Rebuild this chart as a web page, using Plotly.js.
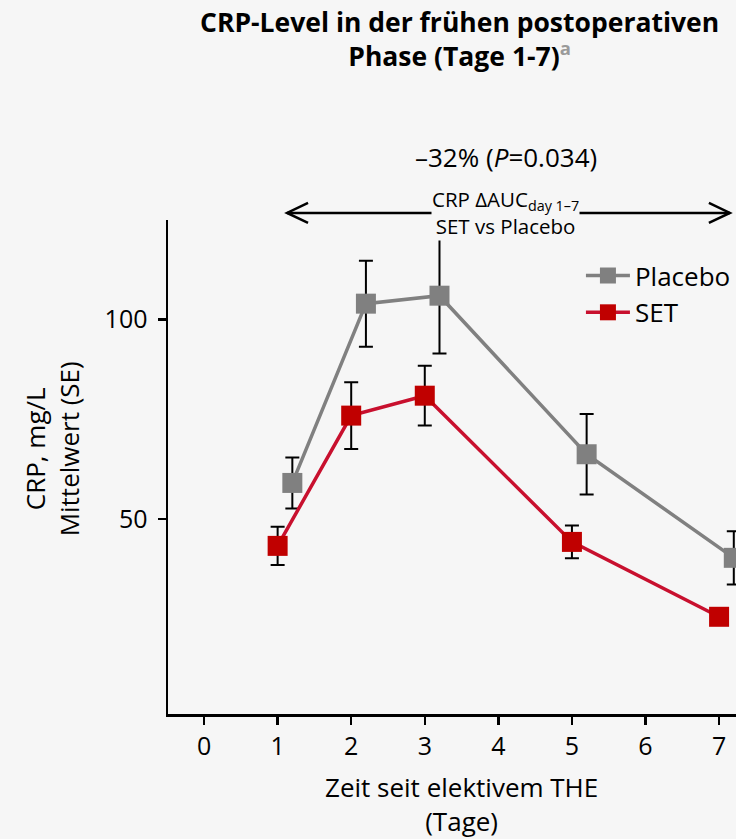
<!DOCTYPE html>
<html>
<head>
<meta charset="utf-8">
<script src="https://cdn.plot.ly/plotly-3.0.1.min.js"></script>
<style>
  html, body { margin: 0; padding: 0; background: #f6f6f6; }
  #chart { width: 736px; height: 839px; }
</style>
</head>
<body>
<div id="chart"></div>
<script>
// Postoperative days with a CRP measurement
const days = [1, 2, 3, 5, 7];

// Mean CRP (mg/L) and standard error per group
const placeboMean = [59.0, 104.0, 106.0, 66.2, 40.2];
const placeboSE   = [6.4, 10.8, 14.5, 10.1, 6.7];
const setMean     = [43.2, 75.9, 80.9, 44.2, 25.4];
const setSE       = [4.8, 8.4, 7.5, 4.1, 2.0];

// Axis ticks
const xTicks = [0, 1, 2, 3, 4, 5, 6, 7];
const yTicks = [50, 100];

// Placebo points are nudged right so the error bars do not overlap
const dodge = 0.2;

const FONT = '"Open Sans", "Noto Sans", sans-serif';
const BG = '#f6f6f6';

const errStyle = (arr) => ({
  type: 'data', array: arr, visible: true,
  color: '#000000', thickness: 2, width: 7
});

const traces = [
  {
    name: 'Placebo',
    x: days.map(d => d + dodge),
    y: placeboMean,
    error_y: errStyle(placeboSE),
    mode: 'lines+markers',
    line: { color: '#808080', width: 3.5 },
    marker: { symbol: 'square', size: 20, color: '#808080' },
    cliponaxis: true
  },
  {
    name: 'SET',
    x: days,
    y: setMean,
    error_y: errStyle(setSE),
    mode: 'lines+markers',
    line: { color: '#C8102E', width: 3.5 },
    marker: { symbol: 'square', size: 20, color: '#C00000' },
    cliponaxis: true
  }
];

// Comparison arrow spanning days 1-7 above the plot
const arrowY = 1.0142;
const arrowL = 1.128, arrowR = 7.147;
const shapes = [
  { type: 'line', xref: 'x', yref: 'paper', x0: arrowL, x1: arrowR, y0: arrowY, y1: arrowY,
    line: { color: '#000', width: 2.5 } },
  { type: 'path', xref: 'x', yref: 'paper', xsizemode: 'pixel', ysizemode: 'pixel',
    xanchor: arrowL, yanchor: arrowY, path: 'M 21,10 L 0,0 L 21,-10',
    line: { color: '#000', width: 2.5 } },
  { type: 'path', xref: 'x', yref: 'paper', xsizemode: 'pixel', ysizemode: 'pixel',
    xanchor: arrowR, yanchor: arrowY, path: 'M -21,10 L 0,0 L -21,-10',
    line: { color: '#000', width: 2.5 } }
];

const annotations = [
  { text: '<b>CRP-Level in der frühen postoperativen<br>Phase (Tage 1-7)<sup><span style="color:#9a9a9a">a</span></sup></b>',
    xref: 'paper', yref: 'paper', x: 0.514, y: 1.3654, xanchor: 'center', yanchor: 'middle',
    showarrow: false, font: { family: FONT, size: 26.5, color: '#000' } },
  { text: '–32% (<i>P</i>=0.034)', xref: 'x', yref: 'paper', x: 4.1, y: 1.1275,
    xanchor: 'center', yanchor: 'middle',
    showarrow: false, font: { family: FONT, size: 26, color: '#000' } },
  { text: 'CRP ΔAUC<sub>day 1–7</sub><br>SET vs Placebo', xref: 'x', yref: 'paper',
    x: 4.1, y: arrowY, xanchor: 'center', yanchor: 'middle', showarrow: false, bgcolor: BG, borderpad: 0,
    font: { family: FONT, size: 20.5, color: '#000' } },
  { text: 'CRP, mg/L<br>Mittelwert (SE)', xref: 'paper', yref: 'paper',
    x: -0.204, y: 0.536, xanchor: 'center', yanchor: 'middle', textangle: -90, showarrow: false,
    font: { family: FONT, size: 26, color: '#000' } },
  { text: 'Zeit seit elektivem THE<br>(Tage)', xref: 'x', yref: 'paper',
    x: 3.5, y: -0.182, xanchor: 'center', yanchor: 'middle', showarrow: false,
    font: { family: FONT, size: 26, color: '#000' } }
];

const layout = {
  width: 736, height: 839,
  paper_bgcolor: BG, plot_bgcolor: BG,
  margin: { l: 168, r: 0, t: 220, b: 125 },
  font: { family: FONT, color: '#000' },
  xaxis: {
    range: [-0.49, 7.23], tickvals: xTicks, ticktext: xTicks.map(String),
    showgrid: false, zeroline: false, showline: true, linecolor: '#000', linewidth: 2.5,
    ticks: 'outside', ticklen: 8, tickwidth: 2.5, tickcolor: '#000',
    tickfont: { family: FONT, size: 25, color: '#000' }, fixedrange: true
  },
  yaxis: {
    range: [1, 125], tickvals: yTicks, ticktext: yTicks.map(String),
    showgrid: false, zeroline: false, showline: true, linecolor: '#000', linewidth: 2.5,
    ticks: 'outside', ticklen: 8, tickwidth: 2.5, tickcolor: '#000',
    ticklabelstandoff: 5,
    tickfont: { family: FONT, size: 25, color: '#000' }, fixedrange: true
  },
  legend: {
    x: 0.727, y: 0.935, xanchor: 'left', yanchor: 'top',
    bgcolor: 'rgba(0,0,0,0)', borderwidth: 0, itemwidth: 44,
    font: { family: FONT, size: 26, color: '#000' },
    traceorder: 'normal'
  },
  shapes: shapes,
  annotations: annotations,
  showlegend: true
};

Plotly.newPlot('chart', traces, layout, { displayModeBar: false, staticPlot: true });
</script>
</body>
</html>
